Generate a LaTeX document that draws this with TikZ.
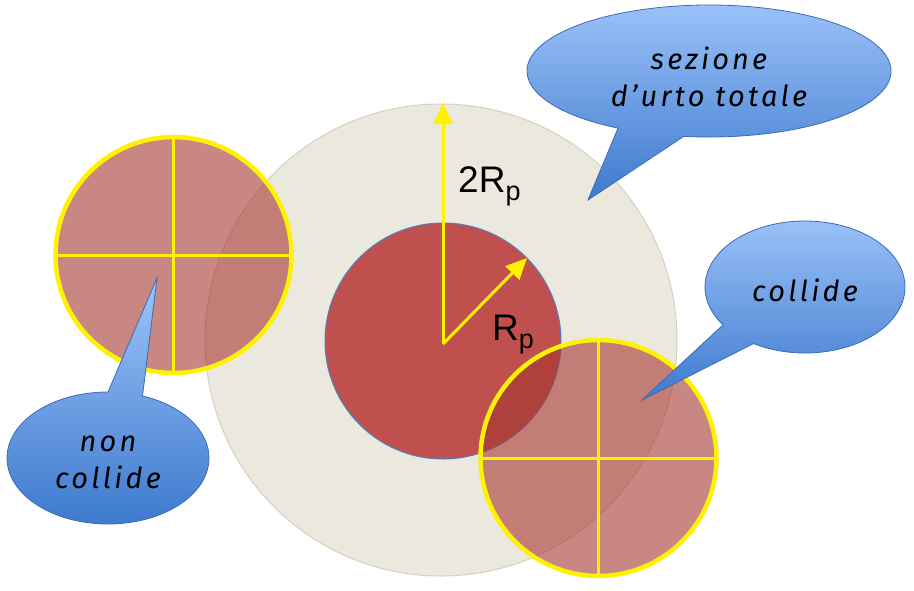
\documentclass[tikz,border=0pt]{standalone}
\usepackage{fontspec}
\setmainfont{Liberation Sans}
\newfontfamily\handfont[LetterSpace=11]{Fira Sans}
\usetikzlibrary{arrows.meta,calc}

\definecolor{beige}{RGB}{235,232,222}
\definecolor{beigeline}{RGB}{214,209,190}
\definecolor{pred}{RGB}{192,80,77}
\definecolor{pblue}{RGB}{79,129,189}
\definecolor{ghost}{RGB}{165,55,50}
\definecolor{cloudtop}{RGB}{158,196,250}
\definecolor{cloudbot}{RGB}{62,122,206}
\definecolor{cloudline}{RGB}{58,108,180}

\tikzset{
  radius arrow/.style={yellow, line width=3pt, -{Triangle[length=21pt,width=19pt]}},
  ghost disc/.style={fill=ghost, fill opacity=0.6, draw=yellow, line width=4.5pt},
  cross line/.style={yellow, line width=3pt},
  cloud/.style={top color=cloudtop, bottom color=cloudbot, draw=cloudline, line width=0.8pt},
  cloud text/.style={font=\handfont\itshape\fontsize{29}{37}\selectfont, align=center},
  big label/.style={font=\fontsize{37}{37}\selectfont, anchor=base west, inner sep=0pt}
}

\begin{document}
\begin{tikzpicture}[x=1pt, y=-1pt]
    \useasboundingbox (0,0) rectangle (914,590);
    % Draw cross sections
    \filldraw[fill=beige, draw=beigeline, line width=1pt] (441,340) circle[radius=236];
    \filldraw[fill=pred, draw=pblue, line width=1pt] (443,341) circle[radius=118];
    % Draw radii
    \coordinate (ctr) at (443,344);
    \coordinate (tip2r) at (443,103);
    \coordinate (tipr) at (527,258);
    \draw[radius arrow] (ctr) -- (tip2r);
    \draw[radius arrow] (ctr) -- (tipr);
    \node[big label] (lab2r) at (458,192) {2R\raisebox{-8pt}{\fontsize{27}{27}\selectfont p}};
    \node[big label] (labr) at (492,340) {R\raisebox{-8pt}{\fontsize{27}{27}\selectfont p}};
    % Draw incoming particles
    \foreach \cx/\cy in {173.5/255, 598.5/458} {
        \filldraw[ghost disc] (\cx,\cy) circle[radius=118];
        \draw[cross line] (\cx-118,\cy) -- (\cx+118,\cy);
        \draw[cross line] (\cx,\cy-118) -- (\cx,\cy+118);
    }
    % Draw callouts
    \coordinate (szc) at (709,71);
    \coordinate (sztip) at (588,200);
    \draw[cloud] ($(szc)+(98:182 and 66)$) -- (sztip) -- ($(szc)+(120:182 and 66)$)
        arc[start angle=120, end angle=458, x radius=182, y radius=66] -- cycle;
    \node[cloud text] (sztext) at (709,77) {sezione\\d’urto totale};
    \coordinate (clc) at (805,287);
    \coordinate (cltip) at (642,400);
    \draw[cloud] ($(clc)+(121:100 and 66)$) -- (cltip) -- ($(clc)+(145:100 and 66)$)
        arc[start angle=145, end angle=481, x radius=100, y radius=66] -- cycle;
    \node[cloud text] (cltext) at (805,290) {collide};
    \coordinate (ncc) at (108,458);
    \coordinate (nctip) at (157,278);
    \draw[cloud] ($(ncc)+(290:101 and 66)$) -- (nctip) -- ($(ncc)+(270:101 and 66)$)
        arc[start angle=270, end angle=-70, x radius=101, y radius=66] -- cycle;
    \node[cloud text] (nctext) at (108,462) {non\\collide};
\end{tikzpicture}
\end{document}
